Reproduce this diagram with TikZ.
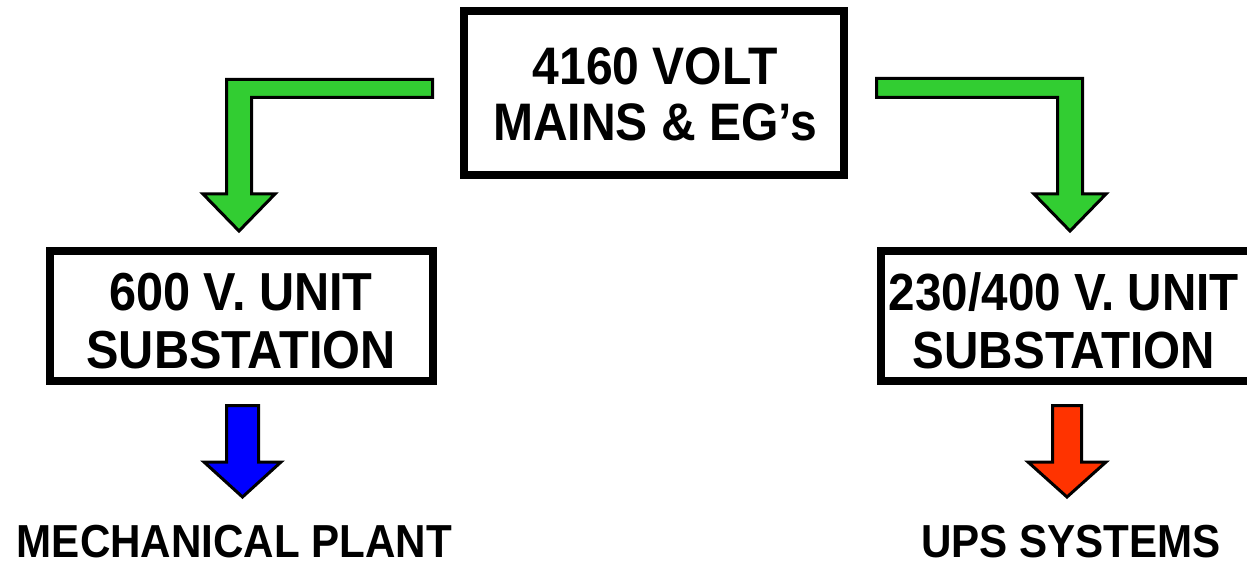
\documentclass[tikz,border=0pt]{standalone}
\usepackage{fontspec}
\setmainfont{Liberation Sans}
\newfontfamily\dfont{Liberation Sans}[FakeStretch=0.91]
\definecolor{arrgreen}{RGB}{50,205,50}
\definecolor{arrblue}{RGB}{0,0,255}
\definecolor{arrred}{RGB}{255,51,0}
\begin{document}
\begin{tikzpicture}[x=1pt,y=-1pt,
  box/.style={draw=black,line width=8pt,inner sep=0pt,fill=white},
  lbl/.style={align=center,inner sep=0pt},
  toplbl/.style={lbl,font=\dfont\bfseries\fontsize{52.8}{56}\selectfont},
  boxlbl/.style={lbl,font=\dfont\bfseries\fontsize{53.5}{58}\selectfont},
  rboxlbl/.style={lbl,font=\dfont\bfseries\fontsize{52.3}{58}\selectfont},
  blbl/.style={inner sep=0pt,font=\dfont\bfseries\fontsize{46.3}{52}\selectfont},
  blockarrow/.style={draw=black,line width=3pt,line join=miter}]
\useasboundingbox (0,0) rectangle (1247,561);
\clip (0,0) rectangle (1247,561);
% boxes
\node[box,minimum width=380pt,minimum height=164pt] (top) at (654,93) {};
\node[box,minimum width=383pt,minimum height=130pt] (left) at (241.5,316) {};
\node[box,minimum width=400pt,minimum height=130pt,anchor=west] (right) at (877,316) {};
% texts
\node[toplbl] (ttop) at (655,94.5) {4160 VOLT\\MAINS \& EG’s};
\node[boxlbl] (tleft) at (241,321) {600 V. UNIT\\SUBSTATION};
\node[rboxlbl] (tright) at (1064,321) {230/400 V. UNIT\\SUBSTATION};
\node[blbl] (mech) at (234.5,541.5) {MECHANICAL PLANT};
\node[blbl] (ups) at (1071,541.5) {UPS SYSTEMS};
% green arrows
\draw[blockarrow,fill=arrgreen] (432.5,79.5) -- (226.5,79.5) -- (226.5,194) -- (203,194) -- (239,231) -- (275,194) -- (251.5,194) -- (251.5,97.5) -- (432.5,97.5) -- cycle;
\draw[blockarrow,fill=arrgreen] (876.5,78.5) -- (1082.5,78.5) -- (1082.5,194) -- (1106,194) -- (1070,231) -- (1034,194) -- (1057.5,194) -- (1057.5,97.5) -- (876.5,97.5) -- cycle;
% blue & red arrows
\draw[blockarrow,fill=arrblue] (226.5,405.5) -- (258.5,405.5) -- (258.5,462) -- (281,462) -- (242.5,497) -- (204,462) -- (226.5,462) -- cycle;
\draw[blockarrow,fill=arrred] (1052.5,405.5) -- (1081.5,405.5) -- (1081.5,462) -- (1106,462) -- (1067,497) -- (1028,462) -- (1052.5,462) -- cycle;
\end{tikzpicture}
\end{document}
